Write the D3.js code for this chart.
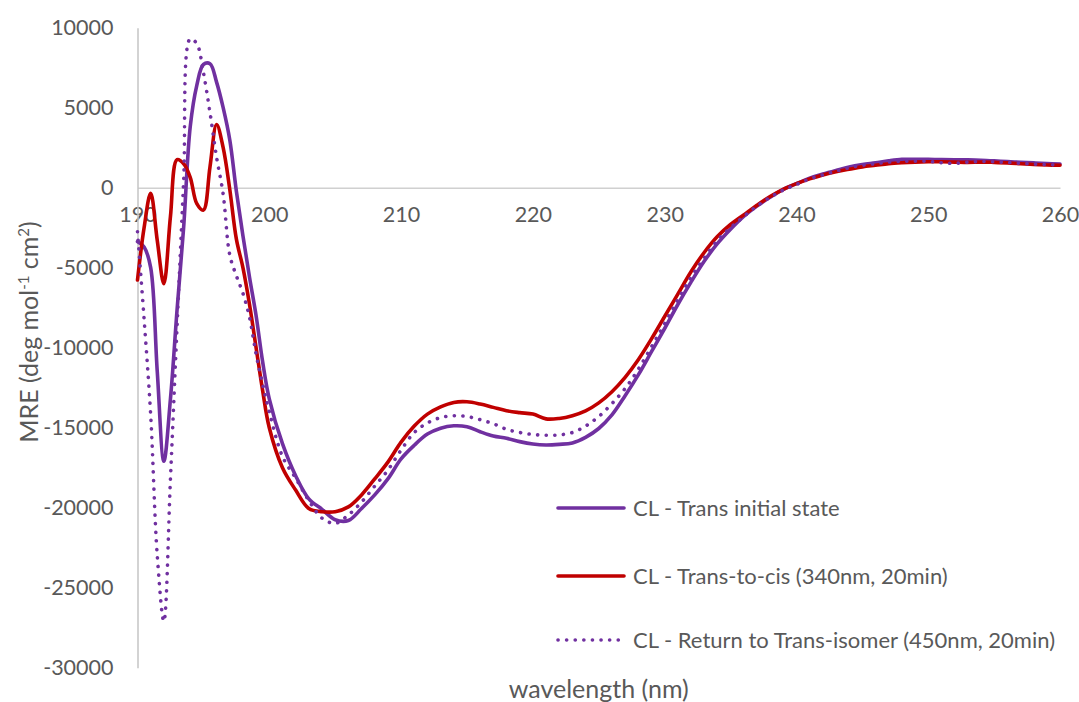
<!DOCTYPE html>
<html>
<head>
<meta charset="utf-8">
<script src="https://cdn.jsdelivr.net/npm/d3@7"></script>
<style>
  html, body { margin: 0; padding: 0; background: #ffffff; }
  svg { display: block; }
  text { font-family: Lato, "Open Sans", sans-serif; fill: #595959; }
</style>
</head>
<body>
<svg id="chart" width="1079" height="702"></svg>
<script>
// Wavelength grid (nm): 0.5 nm steps up to 200 nm, 1 nm steps afterwards
const wavelengths = [
  190, 190.5, 191, 191.5, 192, 192.5, 193, 193.5, 194, 194.5,
  195, 195.5, 196, 196.5, 197, 197.5, 198, 198.5, 199, 199.5,
  200, 201, 202, 203, 204, 205, 206, 207, 208, 209,
  210, 211, 212, 213, 214, 215, 216, 217, 218, 219,
  220, 221, 222, 223, 224, 225, 226, 227, 228, 229,
  230, 231, 232, 233, 234, 235, 236, 237, 238, 239,
  240, 241, 242, 243, 244, 245, 246, 247, 248, 249,
  250, 251, 252, 253, 254, 255, 256, 257, 258, 259, 260
];

// Mean residue ellipticity, deg mol-1 cm2
const transInitial = [
  -3375, -3700, -5000, -11500, -17100, -13200, -7650, -2500, 3800, 6400,
  7700, 7750, 6600, 5000, 3000, -200, -3000, -5600, -8000, -10900,
  -13200, -16000, -18000, -19450, -20100, -20750, -20800, -20050, -19200, -18200,
  -16950, -16100, -15400, -15030, -14880, -14940, -15250, -15520, -15660, -15870,
  -16020, -16080, -16040, -15950, -15600, -15050, -14200, -13000, -11700, -10250,
  -8800, -7300, -5900, -4600, -3500, -2600, -1800, -1150, -600, -100,
  250, 600, 850, 1080, 1300, 1450, 1560, 1680, 1770, 1780,
  1770, 1760, 1750, 1740, 1720, 1680, 1630, 1590, 1550, 1510, 1480
];

const transToCis = [
  -5770, -2500, -350, -3300, -6000, -1800, 1750, 1500, 650, -1000,
  -1400, 1300, 3950, 2500, -100, -3200, -5000, -7300, -10000, -12700,
  -15000, -17500, -18900, -20050, -20250, -20250, -19950, -19200, -18200, -17150,
  -15900, -14900, -14150, -13700, -13420, -13380, -13520, -13730, -13940, -14060,
  -14150, -14450, -14420, -14250, -13950, -13450, -12750, -11850, -10750, -9450,
  -8050, -6650, -5250, -4050, -3050, -2300, -1700, -1100, -550, -100,
  250, 550, 800, 1000, 1150, 1300, 1400, 1500, 1560, 1600,
  1620, 1620, 1600, 1580, 1600, 1580, 1550, 1500, 1450, 1420, 1400
];

const returnToTrans = [
  -2750, -8200, -14200, -23000, -27100, -18200, -8700, 400, 9300, 9000,
  7200, 4700, 1900, -400, -4200, -5500, -6600, -8100, -10400, -12300,
  -14000, -16800, -18150, -19550, -20650, -20980, -20450, -19650, -18650, -17650,
  -16400, -15300, -14700, -14370, -14250, -14300, -14500, -14750, -15100, -15300,
  -15420, -15470, -15450, -15300, -14900, -14300, -13500, -12550, -11350, -9950,
  -8500, -7000, -5600, -4400, -3300, -2500, -1800, -1150, -600, -150,
  200, 550, 800, 1030, 1250, 1400, 1500, 1600, 1650, 1660,
  1650, 1560, 1520, 1600, 1640, 1620, 1580, 1530, 1480, 1440, 1420
];

const seriesNames = [
  "CL - Trans initial state",
  "CL - Trans-to-cis (340nm, 20min)",
  "CL - Return to Trans-isomer (450nm, 20min)"
];

const xTicks = [190, 200, 210, 220, 230, 240, 250, 260];
const yTicks = [10000, 5000, 0, -5000, -10000, -15000, -20000, -25000, -30000];

const svg = d3.select("#chart");

const plot = { left: 137.5, right: 1060, top: 27.7, bottom: 667.7 };

const x = d3.scaleLinear().domain([190, 260]).range([plot.left, plot.right]);
const y = d3.scaleLinear().domain([-30000, 10000]).range([plot.bottom, plot.top]);

// Horizontal axis drawn along the zero line
const xAxis = d3.axisBottom(x).tickValues(xTicks).tickSize(0).tickPadding(19);
const gx = svg.append("g")
  .attr("transform", `translate(0,${y(0)})`)
  .call(xAxis);
gx.select(".domain").attr("stroke", "#d0d0d0").attr("stroke-width", 1.5);
gx.selectAll("text").style("font-size", "21.5px").attr("fill", "#595959");

// Vertical axis (plain hyphen for negative values)
const yAxis = d3.axisLeft(y).tickValues(yTicks).tickSize(0).tickPadding(24)
  .tickFormat(d => String(d));
const gy = svg.append("g")
  .attr("transform", `translate(${plot.left},0)`)
  .call(yAxis);
gy.select(".domain").attr("stroke", "#c4c4c4").attr("stroke-width", 1.5);
gy.selectAll("text").style("font-size", "21.5px").attr("fill", "#595959");

// Axis titles
svg.append("text")
  .attr("x", (plot.left + plot.right) / 2)
  .attr("y", 698)
  .attr("text-anchor", "middle")
  .style("font-size", "25px")
  .text("wavelength (nm)");

const yTitle = svg.append("text")
  .attr("transform", "translate(38,332) rotate(-90)")
  .attr("text-anchor", "middle")
  .style("font-size", "25px");
yTitle.append("tspan").text("MRE (deg mol");
yTitle.append("tspan").attr("baseline-shift", "super").style("font-size", "15px").text("-1");
yTitle.append("tspan").text(" cm");
yTitle.append("tspan").attr("baseline-shift", "super").style("font-size", "15px").text("2");
yTitle.append("tspan").text(")");

// Series
const styles = [
  { color: "#7030A0", dash: null, width: 3.6 },
  { color: "#C00000", dash: null, width: 3.6 },
  { color: "#7030A0", dash: "0.1 8.5", width: 3.6 }
];
const seriesValues = [transInitial, transToCis, returnToTrans];

const line = d3.line()
  .x((d, i) => x(wavelengths[i]))
  .y(d => y(d))
  .curve(d3.curveCatmullRom.alpha(0.5));

seriesValues.forEach((vals, k) => {
  const s = styles[k];
  svg.append("path")
    .datum(vals)
    .attr("d", line)
    .attr("fill", "none")
    .attr("stroke", s.color)
    .attr("stroke-width", s.width)
    .attr("stroke-linejoin", "round")
    .attr("stroke-linecap", "round")
    .attr("stroke-dasharray", s.dash);
});

// Legend
const legendY = [508, 576, 640];
const legend = svg.append("g");
seriesNames.forEach((name, k) => {
  const s = styles[k];
  legend.append("line")
    .attr("x1", 558).attr("x2", 624)
    .attr("y1", legendY[k]).attr("y2", legendY[k])
    .attr("stroke", s.color)
    .attr("stroke-width", s.width)
    .attr("stroke-linecap", "round")
    .attr("stroke-dasharray", s.dash);
  legend.append("text")
    .attr("x", 633)
    .attr("y", legendY[k])
    .attr("dy", "0.35em")
    .style("font-size", "22px")
    .text(name);
});
</script>
</body>
</html>
